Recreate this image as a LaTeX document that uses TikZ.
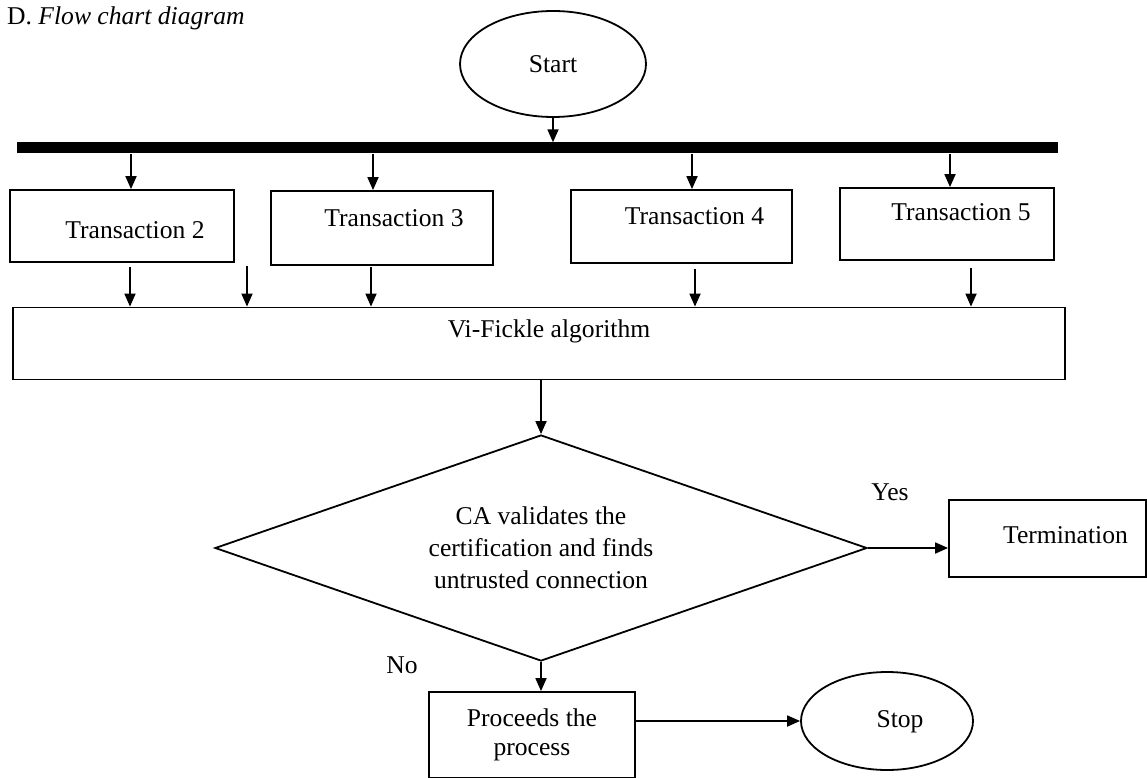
\documentclass[tikz,border=0pt]{standalone}
\usepackage{fontspec}
\setmainfont{Liberation Serif}
\usetikzlibrary{shapes.geometric,arrows.meta}
\tikzset{
  base/.style={draw=black, line width=1.8pt, inner sep=0pt},
  box/.style={base, rectangle},
  oval/.style={base, ellipse},
  lbl/.style={inner sep=0pt},
  arr/.style={line width=1.8pt, -{Triangle[length=13pt,width=11pt]}},
}
\begin{document}
\begin{tikzpicture}[x=1pt, y=-1pt, font=\fontsize{25.6pt}{32pt}\selectfont]
\useasboundingbox (0,0) rectangle (1147,778);

% title
\node[lbl, anchor=west] (title) at (7,18) {D. \textit{Flow chart diagram}};

% start
\node[oval, minimum width=186pt, minimum height=106pt] (start) at (553,64) {Start};

% bus bar
\node[fill=black, inner sep=0pt, minimum width=1041pt, minimum height=11pt] (bar) at (537,148) {};

% transactions
\node[box, minimum width=224pt, minimum height=72pt,
      label={[lbl, shift={(13pt,-4pt)}]center:Transaction 2}] (t2) at (122,226) {};
\node[box, minimum width=222pt, minimum height=74pt,
      label={[lbl, shift={(12pt,10pt)}]center:Transaction 3}] (t3) at (382,228) {};
\node[box, minimum width=221pt, minimum height=73pt,
      label={[lbl, shift={(13pt,10pt)}]center:Transaction 4}] (t4) at (681.5,226.5) {};
\node[box, minimum width=214pt, minimum height=72pt,
      label={[lbl, shift={(14pt,12pt)}]center:Transaction 5}] (t5) at (947,224) {};

% algorithm box
\node[box, minimum width=1052pt, minimum height=72pt,
      label={[lbl, shift={(10pt,12pt)}]center:Vi-Fickle algorithm}] (vf) at (539,343.5) {};

% decision
\node[base, diamond, aspect=2.9, minimum width=652pt, minimum height=226pt, align=center]
  (dia) at (541,548) {CA validates the\\certification and finds\\untrusted connection};

% termination
\node[box, minimum width=197pt, minimum height=77pt,
      label={[lbl, shift={(18pt,3pt)}]center:Termination}] (term) at (1047.5,538.5) {};

% proceeds
\node[box, minimum width=206pt, minimum height=86pt, align=center,
      font=\fontsize{25.6pt}{29pt}\selectfont] (proc) at (532,735) {Proceeds the\\process};

% stop
\node[oval, minimum width=172pt, minimum height=98pt,
      label={[lbl, shift={(13pt,-1pt)}]center:Stop}] (stop) at (887,721) {};

% labels
\node[lbl] (yes) at (890,492) {Yes};
\node[lbl] (no) at (402,665) {No};

% connector x positions
\coordinate (c2) at (131,0);
\coordinate (c3) at (373,0);
\coordinate (c4) at (692,0);
\coordinate (c5) at (950,0);
\coordinate (d2) at (130,0);
\coordinate (d3) at (371,0);
\coordinate (d4) at (695,0);
\coordinate (d5) at (971,0);
\coordinate (free) at (247,266);

% start to bar
\draw[arr] (start.south) -- (start.south |- bar.north);

% bar to transactions
\draw[arr] (bar.south -| c2) -- (t2.north -| c2);
\draw[arr] (bar.south -| c3) -- (t3.north -| c3);
\draw[arr] (bar.south -| c4) -- (t4.north -| c4);
\draw[arr] (bar.south -| c5) -- (t5.north -| c5);

% transactions to algorithm
\draw[arr] ([yshift=-4pt]t2.south -| d2) -- (vf.north -| d2);
\draw[arr] (free) -- (free |- vf.north);
\draw[arr] ([yshift=-1pt]t3.south -| d3) -- (vf.north -| d3);
\draw[arr] ([yshift=-5pt]t4.south -| d4) -- (vf.north -| d4);
\draw[arr] ([yshift=-7pt]t5.south -| d5) -- (vf.north -| d5);

% algorithm to decision
\draw[arr] (vf.south -| dia.north) -- (dia.north);

% decision branches
\draw[arr] (dia.east) -- (dia.east -| term.west);
\draw[arr] (dia.south) -- (dia.south |- proc.north);

% proceeds to stop
\draw[arr] (proc.east |- stop.west) -- (stop.west);
\end{tikzpicture}
\end{document}
